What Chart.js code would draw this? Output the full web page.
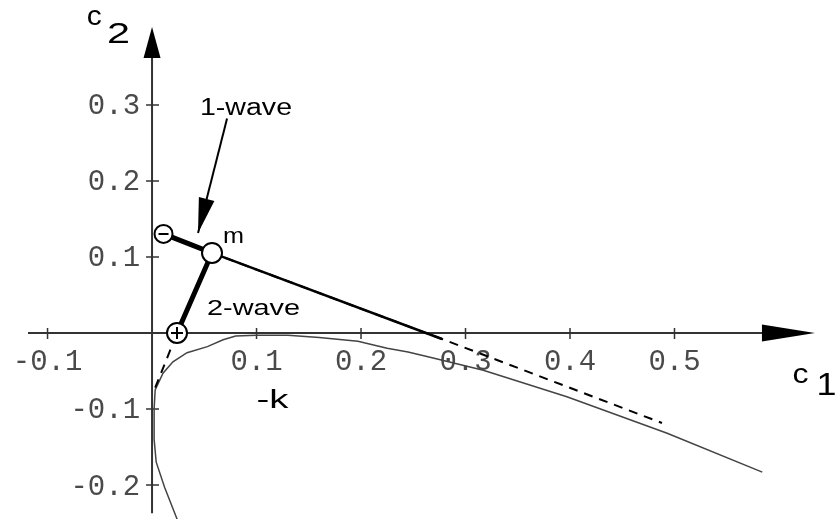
<!DOCTYPE html>
<html>
<head>
<meta charset="utf-8">
<script src="https://cdn.jsdelivr.net/npm/chart.js@4.4.1/dist/chart.umd.min.js"></script>
<style>
  html, body { margin: 0; padding: 0; background: #fff; }
  #wrap { width: 835px; height: 519px; position: relative; }
</style>
</head>
<body>
<div id="wrap"><canvas id="chart"></canvas></div>
<script>
  // axis ticks
  const xTicks = [-0.1, 0.1, 0.2, 0.3, 0.4, 0.5];
  const xTickLabels = ['-0.1', '0.1', '0.2', '0.3', '0.4', '0.5'];
  const yTicks = [0.3, 0.2, 0.1, -0.1, -0.2];
  const yTickLabels = ['0.3', '0.2', '0.1', '-0.1', '-0.2'];

  // lower solid curve
  const curveX = [0.024, 0.012, 0.004, 0.002, 0.002, 0.003, 0.0105, 0.020, 0.0335, 0.053, 0.068, 0.080, 0.100, 0.130, 0.160, 0.197, 0.225, 0.245, 0.269, 0.317, 0.397, 0.493, 0.584];
  const curveY = [-0.245, -0.203, -0.170, -0.140, -0.100, -0.075, -0.053, -0.038, -0.026, -0.018, -0.009, -0.004, -0.003, -0.003, -0.006, -0.011, -0.020, -0.025, -0.033, -0.049, -0.084, -0.132, -0.183];

  // dashed line
  const dashX = [0.003, 0.024, 0.0574, 0.2775, 0.488];
  const dashY = [-0.072, 0.0, 0.1053, -0.0079, -0.1184];

  // 1-wave line from m to the axis
  const waveX = [0.0574, 0.2775];
  const waveY = [0.1053, -0.0079];

  // states: minus, m, plus
  const stateX = [0.011, 0.0574, 0.0239];
  const stateY = [0.1303, 0.1053, 0.0];
  const stateSize = [9, 10, 10];

  // 1-wave pointer arrow (tail, tip)
  const pointerX = [0.0718, 0.0440];
  const pointerY = [0.282, 0.1316];

  // axis extents: [start, line end, arrow tip]
  const xAxisSpan = [-0.1187, 0.5837, 0.6344];
  const yAxisSpan = [-0.237, 0.3618, 0.4026];

  const notes = [
    { text: '1-wave', x: 0.0459, y: 0.2868, size: 23, width: 92 },
    { text: '2-wave', x: 0.0526, y: 0.0237, size: 22, width: 93 },
    { text: 'm', x: 0.068, y: 0.1184, size: 22, width: 21 },
    { text: '-k', x: 0.1000, y: -0.0987, size: 25, width: 32 },
    { text: 'c', x: -0.0625, y: 0.405, size: 28, width: 15 },
    { text: '2', x: -0.0430, y: 0.3816, size: 30, width: 23 },
    { text: 'c', x: 0.6130, y: -0.0658, size: 28, width: 16 },
    { text: '1', x: 0.6360, y: -0.0816, size: 32, width: 20 }
  ];

  const toPts = (xs, ys) => xs.map((v, i) => ({ x: v, y: ys[i] }));

  function stretchText(ctx, str, px, py, size, width) {
    ctx.font = size + 'px "Liberation Sans", Arial, sans-serif';
    const w = ctx.measureText(str).width;
    ctx.save();
    ctx.translate(px, py);
    ctx.scale(width / w, 1);
    ctx.fillText(str, 0, 0);
    ctx.restore();
  }

  function arrowHead(ctx, tx, ty, fx, fy, len, half) {
    const dx = tx - fx, dy = ty - fy;
    const d = Math.hypot(dx, dy);
    const ux = dx / d, uy = dy / d;
    const bx = tx - ux * len, by = ty - uy * len;
    ctx.beginPath();
    ctx.moveTo(tx, ty);
    ctx.lineTo(bx - uy * half, by + ux * half);
    ctx.lineTo(bx + uy * half, by - ux * half);
    ctx.closePath();
    ctx.fill();
  }

  const crossAxes = {
    id: 'crossAxes',
    beforeDatasetsDraw(chart) {
      const { ctx, scales: { x, y } } = chart;
      const x0 = x.getPixelForValue(0);
      const y0 = y.getPixelForValue(0);
      ctx.save();
      ctx.strokeStyle = '#333';
      ctx.fillStyle = '#000';
      ctx.lineWidth = 2;

      ctx.beginPath();
      ctx.moveTo(x.getPixelForValue(xAxisSpan[0]), y0);
      ctx.lineTo(x.getPixelForValue(xAxisSpan[1]), y0);
      ctx.moveTo(x0, y.getPixelForValue(yAxisSpan[0]));
      ctx.lineTo(x0, y.getPixelForValue(yAxisSpan[1]));
      ctx.stroke();
      arrowHead(ctx, x.getPixelForValue(xAxisSpan[2]), y0, x.getPixelForValue(xAxisSpan[1]), y0, 53, 8.5);
      arrowHead(ctx, x0, y.getPixelForValue(yAxisSpan[2]), x0, y.getPixelForValue(yAxisSpan[1]), 31, 8.5);

      ctx.lineWidth = 1.5;
      ctx.beginPath();
      xTicks.forEach(v => {
        const px = x.getPixelForValue(v);
        ctx.moveTo(px, y0 - 5);
        ctx.lineTo(px, y0 + 6);
      });
      yTicks.forEach(v => {
        const py = y.getPixelForValue(v);
        ctx.moveTo(x0 - 6, py);
        ctx.lineTo(x0 + 7, py);
      });
      ctx.stroke();

      ctx.fillStyle = '#4a4a4a';
      ctx.font = '29px "Liberation Mono", monospace';
      ctx.textBaseline = 'alphabetic';
      ctx.textAlign = 'center';
      xTicks.forEach((v, i) => {
        ctx.fillText(xTickLabels[i], x.getPixelForValue(v), y0 + 37);
      });
      ctx.textAlign = 'right';
      yTicks.forEach((v, i) => {
        ctx.fillText(yTickLabels[i], x0 - 12, y.getPixelForValue(v) + 9.5);
      });
      ctx.restore();
    },
    afterDatasetsDraw(chart) {
      const { ctx, scales: { x, y } } = chart;
      ctx.save();
      ctx.strokeStyle = '#000';
      ctx.fillStyle = '#000';

      // signs in the state circles
      const meta = chart.getDatasetMeta(0);
      const minus = meta.data[0], plus = meta.data[2];
      ctx.lineWidth = 2;
      ctx.beginPath();
      ctx.moveTo(minus.x - 5, minus.y);
      ctx.lineTo(minus.x + 5, minus.y);
      ctx.moveTo(plus.x - 6, plus.y);
      ctx.lineTo(plus.x + 6, plus.y);
      ctx.moveTo(plus.x, plus.y - 6);
      ctx.lineTo(plus.x, plus.y + 6);
      ctx.stroke();

      // pointer to the 1-wave
      const tx = x.getPixelForValue(pointerX[0]), ty = y.getPixelForValue(pointerY[0]);
      const hx = x.getPixelForValue(pointerX[1]), hy = y.getPixelForValue(pointerY[1]);
      ctx.lineWidth = 2;
      ctx.beginPath();
      ctx.moveTo(tx, ty);
      ctx.lineTo(hx, hy);
      ctx.stroke();
      arrowHead(ctx, hx, hy, tx, ty, 35, 8);

      ctx.textAlign = 'left';
      ctx.textBaseline = 'alphabetic';
      notes.forEach(n => {
        stretchText(ctx, n.text, x.getPixelForValue(n.x), y.getPixelForValue(n.y), n.size, n.width);
      });
      ctx.restore();
    }
  };

  new Chart(document.getElementById('chart'), {
    type: 'scatter',
    data: {
      datasets: [
        {
          label: 'states',
          data: toPts(stateX, stateY),
          showLine: false,
          pointRadius: stateSize,
          pointBackgroundColor: '#fff',
          pointBorderColor: '#000',
          pointBorderWidth: 2,
          order: 0
        },
        {
          label: 'waves',
          data: toPts(stateX, stateY),
          showLine: true,
          borderColor: '#000',
          borderWidth: 5,
          pointRadius: 0,
          order: 1
        },
        {
          label: '1-wave',
          data: toPts(waveX, waveY),
          showLine: true,
          borderColor: '#000',
          borderWidth: 2.5,
          pointRadius: 0,
          order: 2
        },
        {
          label: 'dashed',
          data: toPts(dashX, dashY),
          showLine: true,
          borderColor: '#000',
          borderWidth: 2,
          borderDash: [9, 7],
          pointRadius: 0,
          order: 3
        },
        {
          label: 'curve',
          data: toPts(curveX, curveY),
          showLine: true,
          borderColor: '#444',
          borderWidth: 1.5,
          pointRadius: 0,
          order: 4
        }
      ]
    },
    options: {
      animation: false,
      responsive: true,
      maintainAspectRatio: false,
      events: [],
      layout: { padding: 0, autoPadding: false },
      plugins: { legend: { display: false }, tooltip: { enabled: false } },
      scales: {
        x: { type: 'linear', display: false, min: -0.1455, max: 0.6536 },
        y: { type: 'linear', display: false, min: -0.2447, max: 0.438 }
      }
    },
    plugins: [crossAxes]
  });
</script>
</body>
</html>
